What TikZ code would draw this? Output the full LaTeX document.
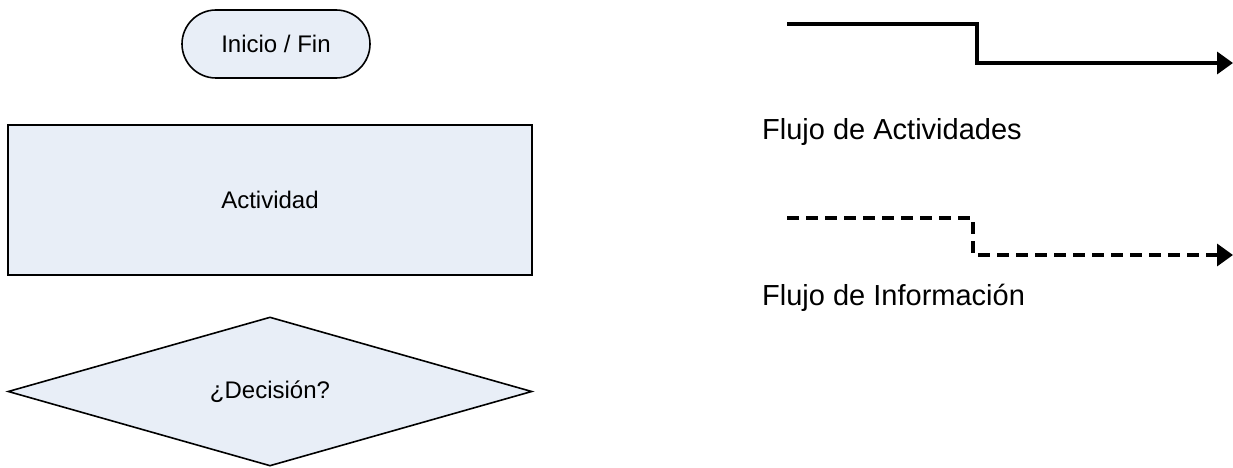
\documentclass[tikz,border=0pt]{standalone}
\usepackage{fontspec}
\setmainfont{Liberation Sans}
\usetikzlibrary{arrows.meta,shapes.geometric}
\definecolor{shapefill}{HTML}{E8EEF7}
\tikzset{
  shapebox/.style={draw=black,line width=1.6pt,fill=shapefill,inner sep=0pt,
    font=\fontsize{24}{29}\selectfont},
  flowline/.style={line width=3.5pt,-{Triangle[length=16pt,width=22pt]}},
  infoline/.style={line width=3.5pt,dash pattern=on 12pt off 7pt,-{Triangle[length=16pt,width=22pt]}},
  legend/.style={anchor=west,inner sep=0pt,font=\fontsize{29}{34}\selectfont}
}
\begin{document}
\begin{tikzpicture}[x=1pt,y=-1pt]
\useasboundingbox (0,0) rectangle (1233,468);
% terminator
\node[shapebox,rounded corners=34pt,minimum width=188pt,minimum height=68pt] (term) at (276,44) {Inicio / Fin};
% activity
\node[shapebox,minimum width=524pt,minimum height=150pt] (act) at (270,200) {Actividad};
% decision
\node[shapebox,diamond,aspect=3.47,minimum width=524pt,minimum height=149pt] (dec) at (270,391.5) {¿Decisión?};
% legend flows
\coordinate (a1) at (787,24);
\coordinate (a2) at (977,24);
\coordinate (a3) at (977,63);
\coordinate (a4) at (1233,63);
\draw[flowline] (a1) -- (a2) -- (a3) -- (a4);
\node[legend] (la) at (762,132) {Flujo de Actividades};
\coordinate (b1) at (787,218);
\coordinate (b2) at (973,218);
\coordinate (b3) at (973,255);
\coordinate (b4) at (1233,255);
\draw[infoline] (b1) -- (b2) -- (b3) -- (b4);
\node[legend] (lb) at (762,298) {Flujo de Información};
\end{tikzpicture}
\end{document}
